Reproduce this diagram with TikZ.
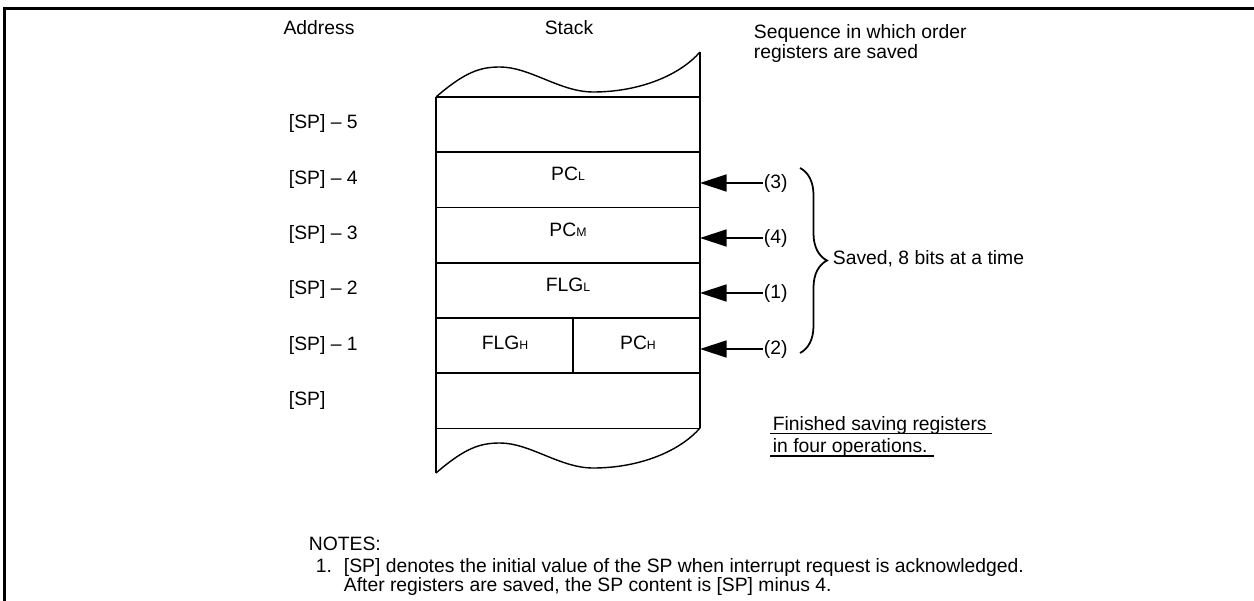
\documentclass[tikz,border=0pt]{standalone}
\usepackage{fontspec}
\setmainfont{Liberation Sans}
\usetikzlibrary{arrows.meta,decorations.pathreplacing}
\newcommand\lowsub[1]{{\fontsize{7pt}{8pt}\selectfont #1}}

\begin{document}
\begin{tikzpicture}[x=0.02cm, y=-0.02cm, line width=1pt,
    txt/.style={inner sep=0pt, font=\fontsize{11pt}{12pt}\selectfont},
    lbl/.style={txt, anchor=base west},
    cell/.style={txt, anchor=base},
    push/.style={{Triangle[length=5.3mm, width=3.4mm]}-, line width=0.8pt}]
    \useasboundingbox (0,0) rectangle (1254,601);

    % Frame
    \draw[line width=1.6pt] (4.5,601) -- (4.5,8.5) -- (1254,8.5);

    % Headings
    \node[cell] (haddr) at (319,35) {Address};
    \node[cell] (hstack) at (569,35) {Stack};
    \node[lbl] (hseqa) at (753,39) {Sequence in which order};
    \node[lbl] (hseqb) at (753,59) {registers are saved};

    % Stack
    \draw (436,97) -- (436,473);
    \draw (700,52) -- (700,428);
    \foreach \y in {97,152.25,207.5,262.75,318,373.25,428.5}
        \draw (436,\y) -- (700,\y);
    \draw (572.7,318) -- (572.7,373.25);
    \foreach \s in {0,376}
        \draw[line width=0.8pt, shift={(0,\s)}] (436,97)
            .. controls (465,72) and (480,67) .. (500,67)
            .. controls (530,67) and (560,92) .. (593,92)
            .. controls (640,92) and (680,75) .. (700,52);

    % Contents
    \node[cell] (pcl) at (568,181) {PC\lowsub{L}};
    \node[cell] (pcm) at (568,236) {PC\lowsub{M}};
    \node[cell] (flgl) at (568,292) {FLG\lowsub{L}};
    \node[cell] (flgh) at (505,349) {FLG\lowsub{H}};
    \node[cell] (pch) at (638,349) {PC\lowsub{H}};

    % Addresses
    \foreach \n/\y in {5/129,4/184.5,3/239.5,2/295,1/350}
        \node[lbl] (addr\n) at (288,\y) {[SP] -- \n};
    \node[lbl] (addr0) at (288,405.5) {[SP]};

    % Order of saving
    \foreach \n/\y in {3/183,4/238,1/293,2/349} {
        \coordinate (in\n) at (700,\y);
        \node[txt, anchor=west] (ord\n) at (763,\y) {(\n)};
        \draw[push] (in\n) -- (ord\n);
    }
    \draw[decorate, decoration={brace, amplitude=0.54cm}] (800,168) -- (800,353);
    \node[lbl] (saved) at (832,264) {Saved, 8 bits at a time};

    % Finished
    \node[lbl] (done1) at (772,430) {Finished saving registers};
    \node[lbl] (done2) at (772,452) {in four operations.};
    \draw[line width=0.9pt] ([shift={(-2,3.5)}]done1.base west) -- ([shift={(4,3.5)}]done1.base east);
    \draw[line width=0.9pt] ([shift={(-2,4)}]done2.base west) -- ([shift={(6,4)}]done2.base east);

    % Notes
    \node[lbl] (notes) at (308,550) {NOTES:};
    \node[lbl] (num1) at (315,572) {1.};
    \node[lbl] (note1a) at (343,572) {[SP] denotes the initial value of the SP when interrupt request is acknowledged.};
    \node[lbl] (note1b) at (343,591) {After registers are saved, the SP content is [SP] minus 4.};
\end{tikzpicture}
\end{document}
